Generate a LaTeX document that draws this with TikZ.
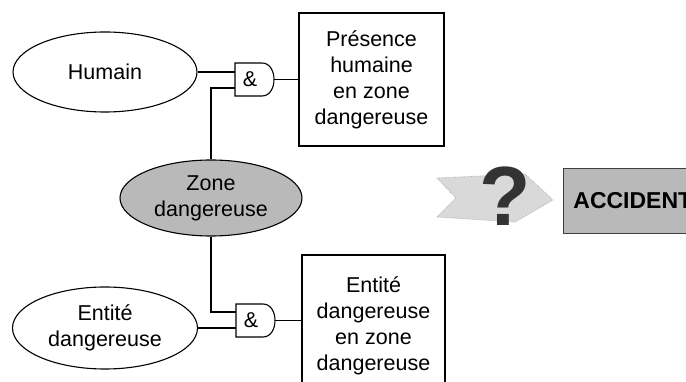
\documentclass[tikz,border=0pt]{standalone}
\usepackage{fontspec}
\setmainfont{Liberation Sans}
\usetikzlibrary{shapes.geometric}
\tikzset{
  lbl/.style={font=\fontsize{21.5}{26}\selectfont, align=center},
  oval/.style={ellipse, draw, line width=1.1pt, inner sep=0pt, lbl},
  event/.style={rectangle, draw, line width=1.1pt, inner sep=0pt, lbl},
  wire/.style={line width=1.1pt},
  gate/.style={line width=1.1pt},
}
\begin{document}
\begin{tikzpicture}[x=1pt,y=-1pt]
\useasboundingbox (0,0) rectangle (686,382);
\begin{scope}
\clip (0,0) rectangle (686,382);
% ellipses
\node[oval, minimum width=184, minimum height=80] (hum) at (105,72) {Humain};
\node[oval, minimum width=182, minimum height=76, fill=gray!55] (zone) at (211,198) {Zone\\dangereuse};
\node[oval, minimum width=185, minimum height=82] (ent) at (105,328) {Entité\\dangereuse};
% boxes
\node[event, minimum width=145, minimum height=133] (box1) at (371.5,79.5) {Présence\\humaine\\en zone\\dangereuse};
\node[event, minimum width=143, minimum height=142] (box2) at (373.5,326) {Entité\\dangereuse\\en zone\\dangereuse};
% gate 1
\draw[gate] (235,63) -- (262,63) .. controls (278,63) and (278,96) .. (262,96) -- (235,96) -- cycle;
\node[lbl, inner sep=0pt] (g1) at (250,79.5) {\&};
\coordinate (g1a) at (235,72);
\coordinate (g1b) at (235,88);
\coordinate (g1o) at (274,79.5);
% gate 2
\draw[gate] (236,304) -- (263,304) .. controls (279,304) and (279,337) .. (263,337) -- (236,337) -- cycle;
\node[lbl, inner sep=0pt] (g2) at (251,320.5) {\&};
\coordinate (g2a) at (236,312);
\coordinate (g2b) at (236,328);
\coordinate (g2o) at (275,320.5);
% wires
\draw[wire] (hum.east) -- (g1a);
\draw[wire] (zone.north) |- (g1b);
\draw[wire] (g1o) -- (box1.west |- g1o);
\draw[wire] (zone.south) |- (g2a);
\draw[wire] (ent.east) -- (g2b);
\draw[wire] (g2o) -- (box2.west |- g2o);
% arrow
\draw[fill=gray!30, draw=gray!60, densely dotted, line width=0.8pt]
  (437,178) -- (525,174) -- (553,200) -- (515,222) -- (437,217) -- (456,198) -- cycle;
\node[text=black!80, font=\fontsize{84}{84}\selectfont\bfseries, inner sep=0pt] (qm) at (505,196) {?};
% accident
\node[anchor=west, rectangle, fill=gray!55, draw=gray!50!black, line width=0.8pt,
  minimum height=65, text width=130, inner xsep=10, align=left,
  font=\fontsize{23}{23}\selectfont\bfseries] (acc) at (563,200.5) {ACCIDENT};
\end{scope}
\end{tikzpicture}
\end{document}
